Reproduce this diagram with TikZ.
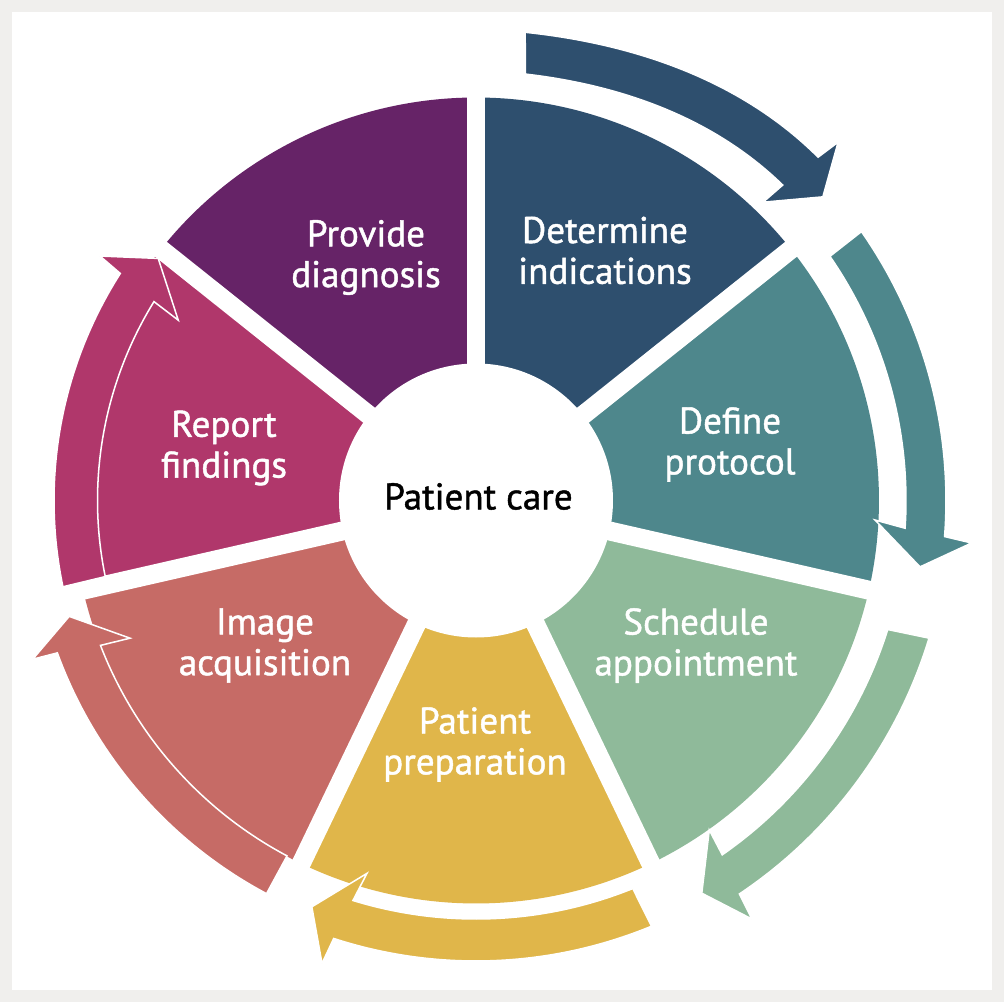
\documentclass[tikz,border=0pt]{standalone}
\usepackage{fontspec}
\setmainfont{PT Sans}[FakeBold=1.2]
\definecolor{pageGray}{HTML}{F0EFED}
\definecolor{cDiag}{HTML}{662367}
\definecolor{cInd}{HTML}{2E4F6E}
\definecolor{cProt}{HTML}{4E878C}
\definecolor{cSched}{HTML}{8FBA9A}
\definecolor{cPrep}{HTML}{E0B64A}
\definecolor{cImg}{HTML}{C66B66}
\definecolor{cRep}{HTML}{B0376B}
\begin{document}
\begin{tikzpicture}[x=0.254mm,y=0.254mm,
    stagetext/.style={text=white,align=center,font=\fontsize{26.8pt}{29.5pt}\selectfont},
    flowarrow/.style={draw=white,line width=1.1pt,looseness=0.88}]
  \useasboundingbox (-476,-501.5) rectangle (528,500.5);
  \fill[pageGray] (-476,-501.5) rectangle (528,500.5);
  \fill[white] (-464,-489.5) rectangle (516,488.5);

  \fill[cDiag] (0,0) -- (90:403) arc[start angle=90,end angle=141.43,radius=403] -- cycle;
  \fill[cInd] (0,0) -- (38.57:403) arc[start angle=38.57,end angle=90,radius=403] -- cycle;
  \fill[cProt] (0,0) -- (-12.86:403) arc[start angle=-12.86,end angle=38.57,radius=403] -- cycle;
  \fill[cSched] (0,0) -- (-64.29:403) arc[start angle=-64.29,end angle=-12.86,radius=403] -- cycle;
  \fill[cPrep] (0,0) -- (-115.71:403) arc[start angle=-115.71,end angle=-64.29,radius=403] -- cycle;
  \fill[cImg] (0,0) -- (-167.14:403) arc[start angle=-167.14,end angle=-115.71,radius=403] -- cycle;
  \fill[cRep] (0,0) -- (141.43:403) arc[start angle=141.43,end angle=192.86,radius=403] -- cycle;
  \foreach \a in {90,38.57,-12.86,-64.29,-115.71,-167.14,141.43}
    \draw[white,line width=13.7pt] (0,0) -- (\a:415);
  \fill[white] (0,0) circle[radius=137];

  \filldraw[fill=cInd,flowarrow] (84:470.8) -- (83.4:429.3) to[out=-6.6,in=135.8] (45.8:440)
    -- (46.1:414) -- (41.2:461) -- (44.7:509.5) -- (45.1:484.7)
    to[out=135.1,in=-6] (84:470.8) -- cycle;
  \filldraw[fill=cProt,flowarrow] (34.9:470) -- (34.6:430) arc[start angle=34.6,end angle=-3.7,radius=430]
    -- (-2.8:399.5) -- (-8.5:449) -- (-4.9:497.5) -- (-4.4:470)
    arc[start angle=-4.4,end angle=34.9,radius=470] -- cycle;
  \filldraw[fill=cSched,flowarrow] (-16.9:473.5) -- (-17.4:431.5) arc[start angle=-17.4,end angle=-55.2,radius=431.5]
    -- (-54.7:403.7) -- (-60.1:453) -- (-56.6:501.4) -- (-56.2:473.5)
    arc[start angle=-56.2,end angle=-16.9,radius=473.5] -- cycle;
  \filldraw[fill=cPrep,flowarrow] (-67.6:460.5) -- (-68:418.5) arc[start angle=-68,end angle=-107.1,radius=418.5]
    -- (-106.3:388.5) -- (-112:438.2) -- (-108.4:487.9) -- (-108:460.5)
    arc[start angle=-108,end angle=-67.6,radius=460.5] -- cycle;
  \filldraw[fill=cImg,flowarrow] (241.95:445.5) -- (242:402.5) arc[start angle=242,end angle=201.1,radius=402.5]
    -- (201.7:372.4) -- (195.9:423) -- (199.7:470.9) -- (200:445.5)
    arc[start angle=200,end angle=241.95,radius=445.5] -- cycle;
  \filldraw[fill=cRep,flowarrow] (191.8:422) -- (191.6:378.5) arc[start angle=191.6,end angle=148.3,radius=378.5]
    -- (148.8:348.1) -- (142.7:399.5) -- (146.97:448.5) -- (147.45:422)
    arc[start angle=147.45,end angle=191.8,radius=422] -- cycle;

  \node[stagetext] (diag) at (-110,243) {Provide\\diagnosis};
  \node[stagetext] (ind) at (129,250) {Determine\\indications};
  \node[stagetext] (prot) at (254,56) {Define\\protocol};
  \node[stagetext] (sched) at (220,-145) {Schedule\\appointment};
  \node[stagetext] (prep) at (-1,-244) {Patient\\preparation};
  \node[stagetext] (img) at (-211,-145) {Image\\acquisition};
  \node[stagetext] (rep) at (-252,52.5) {Report\\findings};
  \node[font=\fontsize{26.8pt}{29.5pt}\selectfont] (care) at (2.5,4) {Patient care};
\end{tikzpicture}
\end{document}
